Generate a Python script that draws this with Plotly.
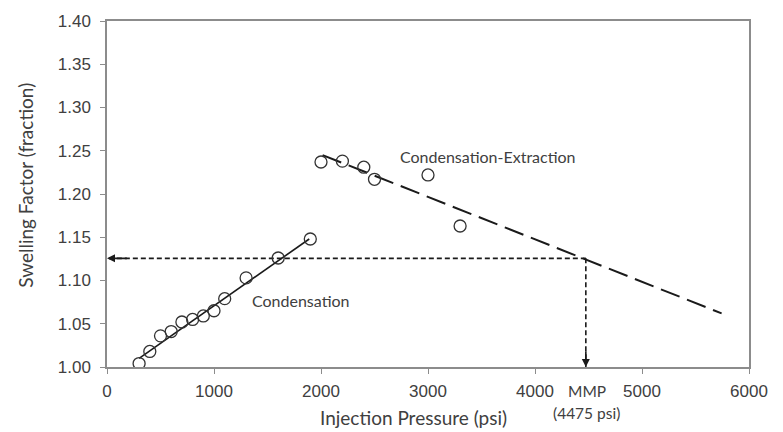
import plotly.graph_objects as go

# Measured data
cond_p = [300, 400, 500, 600, 700, 800, 900, 1000, 1100, 1300, 1600, 1900]
cond_sf = [1.004, 1.018, 1.036, 1.041, 1.052, 1.055, 1.059, 1.065, 1.079, 1.103, 1.126, 1.148]
ext_p = [2000, 2200, 2400, 2500, 3000, 3300]
ext_sf = [1.237, 1.238, 1.231, 1.217, 1.222, 1.163]

# Trend lines (endpoints)
cond_fit_p = [300, 1890]
cond_fit_sf = [1.010, 1.148]
ext_fit_p = [2015, 5744]
ext_fit_sf = [1.245, 1.062]

# MMP construction
mmp_p = 4475
mmp_sf = 1.1256

x_ticks = [0, 1000, 2000, 3000, 4000, 5000, 6000]
y_ticks = [1.00, 1.05, 1.10, 1.15, 1.20, 1.25, 1.30, 1.35, 1.40]

txt = "#404040"
axc = "#8c8c8c"
lbl_family = "Lato, Open Sans, sans-serif"

fig = go.Figure()
fig.add_trace(go.Scatter(x=cond_fit_p, y=cond_fit_sf, mode="lines",
                         line=dict(color="#1a1a1a", width=1.6), showlegend=False))
fig.add_trace(go.Scatter(x=ext_fit_p, y=ext_fit_sf, mode="lines",
                         line=dict(color="#1a1a1a", width=2, dash="20px,8px"), showlegend=False))
fig.add_trace(go.Scatter(x=[mmp_p, 0], y=[mmp_sf, mmp_sf], mode="lines",
                         line=dict(color="#1a1a1a", width=1.6, dash="5px,3px"), showlegend=False))
fig.add_trace(go.Scatter(x=[mmp_p, mmp_p], y=[mmp_sf, 1.0], mode="lines",
                         line=dict(color="#1a1a1a", width=1.6, dash="5px,3px"), showlegend=False))
fig.add_trace(go.Scatter(x=cond_p, y=cond_sf, mode="markers",
                         marker=dict(symbol="circle-open", size=12, color="#333333", line=dict(width=1.3)),
                         showlegend=False))
fig.add_trace(go.Scatter(x=ext_p, y=ext_sf, mode="markers",
                         marker=dict(symbol="circle-open", size=12, color="#333333", line=dict(width=1.3)),
                         showlegend=False))

# arrowheads
fig.add_annotation(x=0, y=mmp_sf, ax=200, ay=mmp_sf, xref="x", yref="y", axref="x", ayref="y",
                   showarrow=True, arrowhead=2, arrowsize=1, arrowwidth=1.6, arrowcolor="#1a1a1a", text="")
fig.add_annotation(x=mmp_p, y=1.0, ax=mmp_p, ay=1.02, xref="x", yref="y", axref="x", ayref="y",
                   showarrow=True, arrowhead=2, arrowsize=1, arrowwidth=1.6, arrowcolor="#1a1a1a", text="")

font_lbl = dict(family=lbl_family, size=16, color=txt)
fig.add_annotation(x=1810, y=1.077, text="Condensation", showarrow=False, font=font_lbl)
fig.add_annotation(x=3560, y=1.243, text="Condensation-Extraction", showarrow=False, font=font_lbl)
fig.add_annotation(x=mmp_p + 8, xref="x", y=-0.069, yref="paper", text="MMP", showarrow=False,
                   xanchor="center", yanchor="middle",
                   font=dict(family=lbl_family, size=15.5, color=txt))
fig.add_annotation(x=mmp_p + 8, xref="x", y=-0.133, yref="paper", text="(4475 psi)", showarrow=False,
                   xanchor="center", yanchor="middle",
                   font=dict(family=lbl_family, size=15.5, color=txt))

# axis titles
fig.add_annotation(x=0.478, y=-0.147, xref="paper", yref="paper", text="Injection Pressure (psi)",
                   xanchor="center", yanchor="middle",
                   showarrow=False, font=dict(family=lbl_family, size=19, color=txt))
fig.add_annotation(x=-0.128, y=0.526, xref="paper", yref="paper", text="Swelling Factor (fraction)",
                   xanchor="center", yanchor="middle",
                   textangle=-90, showarrow=False, font=dict(family=lbl_family, size=19, color=txt))

# page body has an 8px margin, so the figure is offset by (8, 8)
fig.update_layout(
    width=775, height=424,
    margin=dict(l=99, r=34, t=13, b=65),
    plot_bgcolor="white", paper_bgcolor="white",
    font=dict(family="Liberation Sans, Arial, sans-serif", color=txt),
)
fig.update_xaxes(range=[0, 6000], tickvals=x_ticks, ticktext=[str(v) for v in x_ticks],
                 showgrid=False, zeroline=False, showline=True, linecolor=axc, linewidth=1.5,
                 mirror=True, ticks="outside", tickcolor=axc, ticklen=5, tickwidth=1.2,
                 automargin=False, ticklabelstandoff=3,
                 tickfont=dict(family="Liberation Sans, Arial", size=17, color=txt))
fig.update_yaxes(range=[1.0, 1.4], tickvals=y_ticks, ticktext=[f"{v:.2f}" for v in y_ticks],
                 showgrid=False, zeroline=False, showline=True, linecolor=axc, linewidth=1.5,
                 mirror=True, ticks="outside", tickcolor=axc, ticklen=5, tickwidth=1.2,
                 automargin=False, ticklabelstandoff=6,
                 tickfont=dict(family="Liberation Sans, Arial", size=17, color=txt))

fig.write_html("out.html")
